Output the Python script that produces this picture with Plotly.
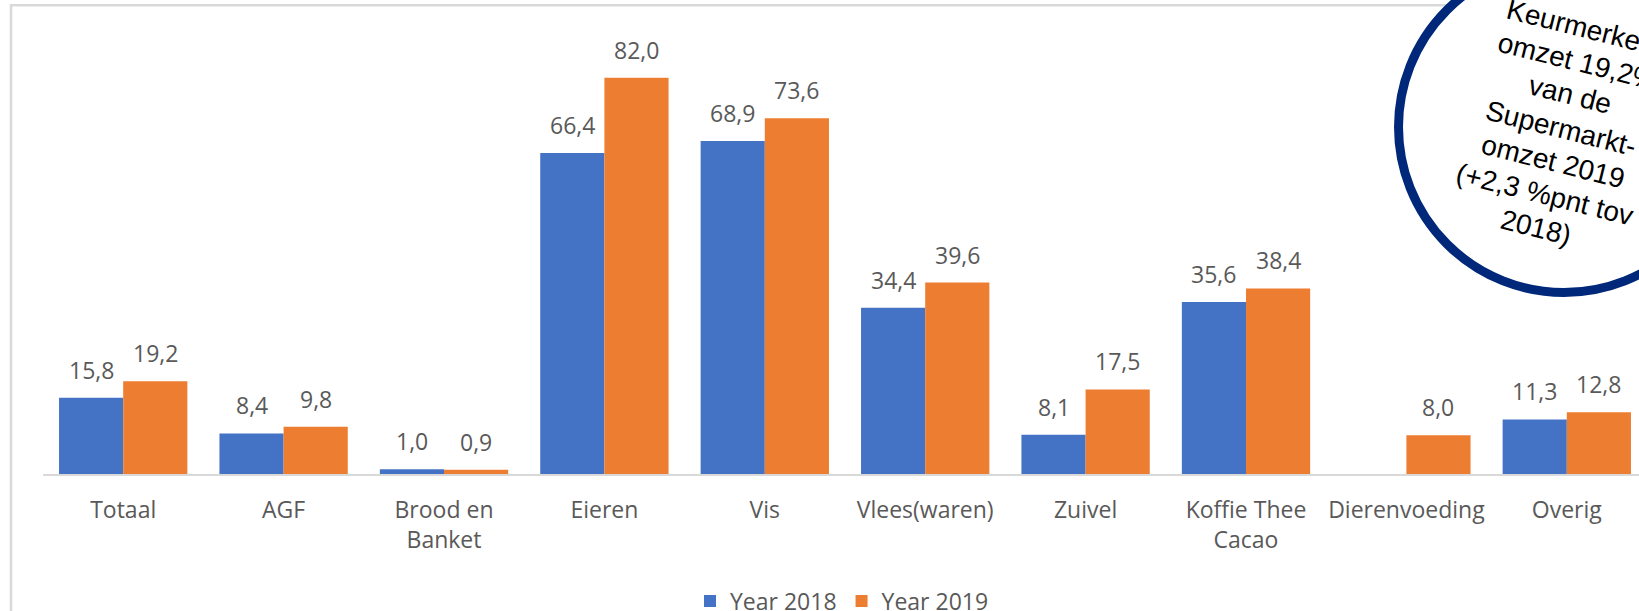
import math
import plotly.graph_objects as go

# ---- data ----
categories = ["Totaal", "AGF", "Brood en<br>Banket", "Eieren", "Vis", "Vlees(waren)",
              "Zuivel", "Koffie Thee<br>Cacao", "Dierenvoeding", "Overig"]
year_2018 = [15.8, 8.4, 1.0, 66.4, 68.9, 34.4, 8.1, 35.6, None, 11.3]
year_2019 = [19.2, 9.8, 0.9, 82.0, 73.6, 39.6, 17.5, 38.4, 8.0, 12.8]
series_names = ["Year 2018", "Year 2019"]
circle_lines = ["Keurmerken-", "omzet 19,2%", "van de", "Supermarkt-",
                "omzet 2019", "(+2,3 %pnt tov", "2018)"]

# ---- style / layout constants ----
W, H = 1639, 611
ML, MT = 43, 10
Y0PX = 474                      # pixel row of the value axis baseline
PW, PH = W - ML, Y0PX - MT
PX_PER_UNIT = 4.833
PX_PER_CAT = 160.4
BLUE, ORANGE = "#4472C4", "#ED7D31"
GREY_TXT = "#595959"
FONT = "Open Sans"

def px_x(p):
    return (p - ML) / PW

def px_y(p):
    return (Y0PX - p) / PH

def fmt(v):
    return f"{v:.1f}".replace(".", ",")

fig = go.Figure()
for name, vals, col in [(series_names[0], year_2018, BLUE), (series_names[1], year_2019, ORANGE)]:
    fig.add_trace(go.Bar(x=categories, y=vals, name=name, marker=dict(color=col, line=dict(width=0))))

# data labels
half = PX_PER_CAT * 0.8 / 4
annotations = []
for vals, shift in [(year_2018, -half), (year_2019, half)]:
    for c, v in zip(categories, vals):
        if v is None:
            continue
        annotations.append(dict(x=c, y=v, xref="x", yref="y", text=fmt(v), showarrow=False,
                                xshift=shift, yshift=10, yanchor="bottom", xanchor="center",
                                font=dict(family=FONT, size=23, color=GREY_TXT)))

# circle text: one rotated line per annotation
ANG = 14
th = math.radians(ANG)
T_CENTER, D_MID, LINE_SP, FS = 1546, -243.7 - 9.7, 34.3, 28
for i, line in enumerate(circle_lines):
    d = D_MID + (i - 3) * LINE_SP
    cx = T_CENTER * math.cos(th) - d * math.sin(th)
    cy = T_CENTER * math.sin(th) + d * math.cos(th)
    annotations.append(dict(x=px_x(cx), y=px_y(cy), xref="paper", yref="paper",
                            text=line, showarrow=False, textangle=ANG,
                            xanchor="center", yanchor="middle",
                            font=dict(family="Liberation Sans", size=FS, color="black")))

CX, CY, R = 1564, 127, 170
RC = R - 4.5
shapes = [
    # chart-area border (light grey), extends beyond the picture on the right/bottom
    dict(type="rect", xref="paper", yref="paper",
         x0=px_x(11), x1=px_x(W + 40), y0=px_y(H + 40), y1=px_y(5.3),
         line=dict(color="#d9d9d9", width=2.6), fillcolor="rgba(0,0,0,0)", layer="below"),
    # callout circle
    dict(type="circle", xref="paper", yref="paper",
         x0=px_x(CX - RC), x1=px_x(CX + RC), y0=px_y(CY + RC), y1=px_y(CY - RC),
         line=dict(color="#00287A", width=9), fillcolor="white", layer="above"),
]

fig.update_layout(
    width=W, height=H,
    margin=dict(l=ML, r=0, t=MT, b=H - Y0PX, pad=0, autoexpand=False),
    paper_bgcolor="white", plot_bgcolor="white",
    barmode="group", bargap=0.2, bargroupgap=0,
    showlegend=True,
    legend=dict(orientation="h", x=px_x(842), y=px_y(601), xanchor="center", yanchor="middle",
                font=dict(family=FONT, size=23, color=GREY_TXT), bgcolor="rgba(0,0,0,0)",
                itemwidth=30, tracegroupgap=0),
    xaxis=dict(type="category", range=[-0.5, -0.5 + PW / PX_PER_CAT], showgrid=False,
               showline=True, linecolor="#d9d9d9", linewidth=2, ticks="",
               ticklabelstandoff=14, automargin=False,
               tickfont=dict(family=FONT, size=23, color=GREY_TXT), fixedrange=True),
    yaxis=dict(range=[0, PH / PX_PER_UNIT], showgrid=False, showticklabels=False,
               zeroline=False, showline=False, ticks="", fixedrange=True, automargin=False),
    annotations=annotations,
    shapes=shapes,
)

fig.write_html("out.html", config={"displayModeBar": False},
               post_script="document.body.style.margin='0';document.body.style.overflow='hidden';")
